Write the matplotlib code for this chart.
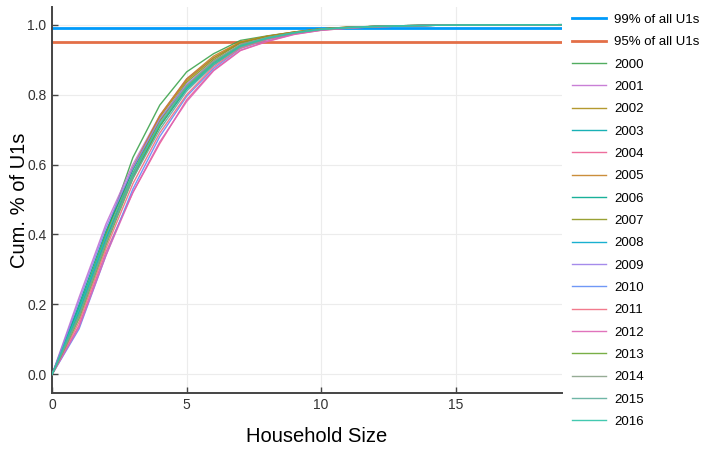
import matplotlib
matplotlib.use("Agg")
import matplotlib.pyplot as plt

plt.rcParams['font.family'] = ['Liberation Sans', 'DejaVu Sans']

# household size 0..19
sizes = list(range(20))

years = [str(y) for y in range(2000, 2017)]

# cumulative share of U1s by household size, one list per year
cum_2000 = [0, 0.180, 0.400, 0.620, 0.770, 0.865, 0.917, 0.955, 0.968, 0.979, 0.988, 0.993, 0.995, 0.997, 0.998, 0.999, 0.9993, 0.9996, 0.9998, 1.0]
cum_2001 = [0, 0.220, 0.430, 0.600, 0.740, 0.845, 0.905, 0.947, 0.966, 0.978, 0.987, 0.992, 0.995, 0.997, 0.998, 0.999, 0.9993, 0.9996, 0.9998, 1.0]
cum_2002 = [0, 0.190, 0.400, 0.590, 0.735, 0.840, 0.905, 0.950, 0.967, 0.979, 0.988, 0.993, 0.995, 0.997, 0.998, 0.999, 0.9993, 0.9996, 0.9998, 1.0]
cum_2003 = [0, 0.190, 0.390, 0.570, 0.710, 0.820, 0.890, 0.940, 0.962, 0.977, 0.987, 0.992, 0.995, 0.997, 0.998, 0.999, 0.9993, 0.9996, 0.9998, 1.0]
cum_2004 = [0, 0.140, 0.350, 0.520, 0.660, 0.785, 0.870, 0.927, 0.953, 0.973, 0.984, 0.990, 0.994, 0.996, 0.998, 0.999, 0.9993, 0.9996, 0.9998, 1.0]
cum_2005 = [0, 0.170, 0.380, 0.590, 0.740, 0.845, 0.910, 0.951, 0.967, 0.979, 0.988, 0.993, 0.995, 0.997, 0.998, 0.999, 0.9993, 0.9996, 0.9998, 1.0]
cum_2006 = [0, 0.200, 0.410, 0.585, 0.725, 0.825, 0.895, 0.942, 0.963, 0.977, 0.987, 0.992, 0.995, 0.997, 0.998, 0.999, 0.9993, 0.9996, 0.9998, 1.0]
cum_2007 = [0, 0.170, 0.380, 0.575, 0.725, 0.835, 0.900, 0.948, 0.966, 0.978, 0.987, 0.992, 0.995, 0.997, 0.998, 0.999, 0.9993, 0.9996, 0.9998, 1.0]
cum_2008 = [0, 0.180, 0.385, 0.565, 0.710, 0.815, 0.885, 0.937, 0.960, 0.976, 0.986, 0.991, 0.994, 0.996, 0.998, 0.999, 0.9993, 0.9996, 0.9998, 1.0]
cum_2009 = [0, 0.210, 0.420, 0.590, 0.730, 0.830, 0.895, 0.942, 0.963, 0.977, 0.987, 0.992, 0.995, 0.997, 0.998, 0.999, 0.9993, 0.9996, 0.9998, 1.0]
cum_2010 = [0, 0.130, 0.340, 0.530, 0.680, 0.795, 0.875, 0.932, 0.957, 0.974, 0.985, 0.991, 0.994, 0.996, 0.998, 0.999, 0.9993, 0.9996, 0.9998, 1.0]
cum_2011 = [0, 0.150, 0.360, 0.545, 0.690, 0.800, 0.880, 0.933, 0.958, 0.975, 0.985, 0.991, 0.994, 0.996, 0.998, 0.999, 0.9993, 0.9996, 0.9998, 1.0]
cum_2012 = [0, 0.135, 0.340, 0.520, 0.665, 0.780, 0.868, 0.926, 0.952, 0.972, 0.984, 0.990, 0.994, 0.996, 0.998, 0.999, 0.9993, 0.9996, 0.9998, 1.0]
cum_2013 = [0, 0.160, 0.370, 0.560, 0.710, 0.820, 0.890, 0.940, 0.962, 0.977, 0.987, 0.992, 0.995, 0.997, 0.998, 0.999, 0.9993, 0.9996, 0.9998, 1.0]
cum_2014 = [0, 0.165, 0.375, 0.570, 0.720, 0.825, 0.895, 0.943, 0.963, 0.977, 0.987, 0.992, 0.995, 0.997, 0.998, 0.999, 0.9993, 0.9996, 0.9998, 1.0]
cum_2015 = [0, 0.170, 0.380, 0.560, 0.700, 0.810, 0.885, 0.936, 0.960, 0.976, 0.986, 0.991, 0.994, 0.996, 0.998, 0.999, 0.9993, 0.9996, 0.9998, 1.0]
cum_2016 = [0, 0.185, 0.395, 0.575, 0.715, 0.820, 0.890, 0.940, 0.962, 0.977, 0.987, 0.992, 0.995, 0.997, 0.998, 0.999, 0.9993, 0.9996, 0.9998, 1.0]

series = [cum_2000, cum_2001, cum_2002, cum_2003, cum_2004, cum_2005, cum_2006,
          cum_2007, cum_2008, cum_2009, cum_2010, cum_2011, cum_2012, cum_2013,
          cum_2014, cum_2015, cum_2016]

thresholds = [0.99, 0.95]
threshold_labels = ['99% of all U1s', '95% of all U1s']

# palette, in plotting order
colors = ['#009AFA', '#E36F47', '#3EA44E', '#C371D2', '#AC8E18', '#00A9AD',
          '#ED5E93', '#C68225', '#00A98E', '#8E971E', '#00A8CB', '#9B7FE9',
          '#618DF6', '#F16C81', '#DD64B5', '#6AA732', '#8BA38A', '#5FAE9C',
          '#2EC4A8']

fig = plt.figure(figsize=(7.05, 4.5), dpi=100)
ax = fig.add_axes([0.074, 0.127, 0.723, 0.857])

for i, (val, lab) in enumerate(zip(thresholds, threshold_labels)):
    ax.axhline(val, color=colors[i], lw=2.0, label=lab, zorder=2)

for i, (yr, vals) in enumerate(zip(years, series)):
    ax.plot(sizes, vals, color=colors[i + 2], lw=1.0, alpha=0.9, label=yr, zorder=3)

ax.set_xlim(0, 18.95)
ax.set_ylim(-0.053, 1.05)
ax.set_xticks([0, 5, 10, 15])
ax.set_yticks([0.0, 0.2, 0.4, 0.6, 0.8, 1.0])
ax.set_yticklabels(['0.0', '0.2', '0.4', '0.6', '0.8', '1.0'])
ax.grid(True, color='#ececec', lw=0.8)
ax.set_axisbelow(True)
for s in ['top', 'right']:
    ax.spines[s].set_visible(False)
for s in ['left', 'bottom']:
    ax.spines[s].set_color('#444444')
    ax.spines[s].set_linewidth(1.4)
ax.tick_params(direction='in', length=4, width=1, color='#444444',
               labelsize=10, labelcolor='#333333', pad=4)

ax.set_xlabel('Household Size', fontsize=14.5)
ax.set_ylabel('Cum. % of U1s', fontsize=14.5)
ax.xaxis.set_label_coords(0.519, -0.088)
ax.yaxis.set_label_coords(-0.045, 0.5)

fig.legend(loc='upper left', bbox_to_anchor=(0.802, 0.984), frameon=False,
           fontsize=9.5, handlelength=2.6, handletextpad=0.6,
           labelspacing=0.765, borderpad=0)

fig.savefig('out.png', dpi=100)
